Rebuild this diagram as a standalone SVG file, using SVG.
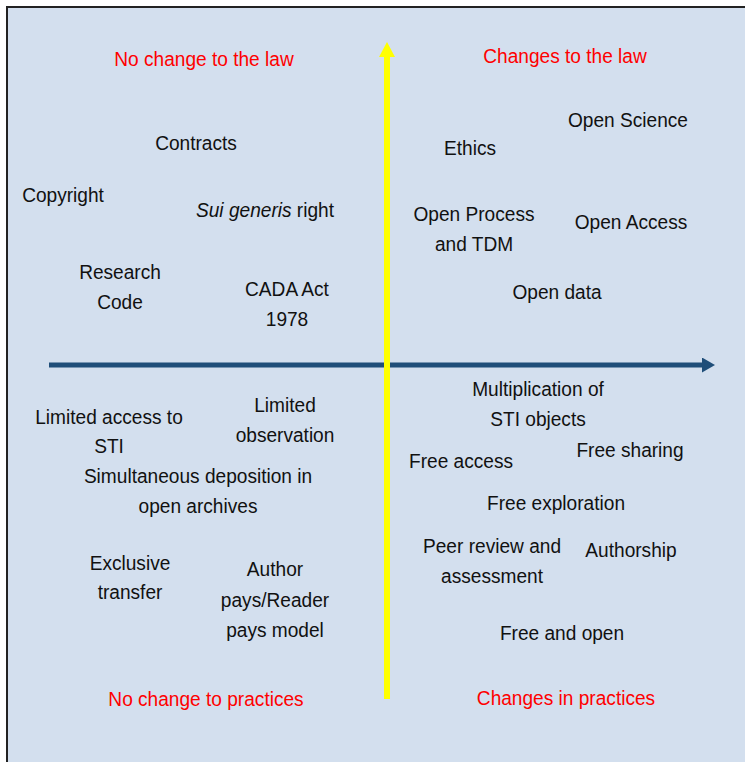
<svg xmlns="http://www.w3.org/2000/svg" width="745" height="762" viewBox="0 0 745 762">
  <style>
    .t { font-family: "Liberation Sans", Arial, sans-serif; font-size: 21px; fill: #111; text-anchor: middle; }
    .r { fill: #ff0000; }
  </style>
  <defs>
    <marker id="blueHead" markerUnits="userSpaceOnUse" markerWidth="14" markerHeight="15" refX="0" refY="7.5" orient="auto">
      <path d="M0,0 L13,7.5 L0,15 Z" fill="#1f4e79"/>
    </marker>
    <marker id="yellowHead" markerUnits="userSpaceOnUse" markerWidth="16" markerHeight="16" refX="0" refY="8" orient="auto">
      <path d="M0,0 L15,8 L0,16 Z" fill="#ffff00"/>
    </marker>
  </defs>
  <rect x="0" y="0" width="745" height="762" fill="#ffffff"/>
  <rect id="frame" x="7" y="7" width="760" height="780" fill="#d3dfee" stroke="#222222" stroke-width="2"/>

  <g id="connectors">
    <line x1="49" y1="365" x2="702" y2="365" stroke="#1f4e79" stroke-width="5" marker-end="url(#blueHead)"/>
    <line x1="387" y1="699" x2="387" y2="57" stroke="#ffff00" stroke-width="6" marker-end="url(#yellowHead)"/>
  </g>

  <g id="label-no-change-law"><text class="t r" transform="translate(204,66) scale(0.91,1)">No change to the law</text></g>
  <g id="label-changes-law"><text class="t r" transform="translate(565,63) scale(0.91,1)">Changes to the law</text></g>
  <g id="label-no-change-practices"><text class="t r" transform="translate(206,706) scale(0.91,1)">No change to practices</text></g>
  <g id="label-changes-practices"><text class="t r" transform="translate(566,705) scale(0.91,1)">Changes in practices</text></g>

  <g id="contracts"><text class="t" transform="translate(196,150) scale(0.91,1)">Contracts</text></g>
  <g id="copyright"><text class="t" transform="translate(63,202) scale(0.91,1)">Copyright</text></g>
  <g id="sui-generis"><text class="t" transform="translate(265,217) scale(0.91,1)"><tspan font-style="italic">Sui generis</tspan> right</text></g>
  <g id="research-code"><text class="t" transform="translate(120,279) scale(0.91,1)"><tspan x="0">Research</tspan><tspan x="0" dy="30">Code</tspan></text></g>
  <g id="cada-act"><text class="t" transform="translate(287,296) scale(0.91,1)"><tspan x="0">CADA Act</tspan><tspan x="0" dy="30">1978</tspan></text></g>

  <g id="open-science"><text class="t" transform="translate(628,127) scale(0.91,1)">Open Science</text></g>
  <g id="ethics"><text class="t" transform="translate(470,155) scale(0.91,1)">Ethics</text></g>
  <g id="open-process"><text class="t" transform="translate(474,221) scale(0.91,1)"><tspan x="0">Open Process</tspan><tspan x="0" dy="30">and TDM</tspan></text></g>
  <g id="open-access"><text class="t" transform="translate(631,229) scale(0.91,1)">Open Access</text></g>
  <g id="open-data"><text class="t" transform="translate(557,299) scale(0.91,1)">Open data</text></g>

  <g id="limited-access"><text class="t" transform="translate(109,424) scale(0.91,1)"><tspan x="0">Limited access to</tspan><tspan x="0" dy="29">STI</tspan></text></g>
  <g id="limited-observation"><text class="t" transform="translate(285,412) scale(0.91,1)"><tspan x="0">Limited</tspan><tspan x="0" dy="30">observation</tspan></text></g>
  <g id="simultaneous"><text class="t" transform="translate(198,483) scale(0.91,1)"><tspan x="0">Simultaneous deposition in</tspan><tspan x="0" dy="30">open archives</tspan></text></g>
  <g id="exclusive"><text class="t" transform="translate(130,570) scale(0.91,1)"><tspan x="0">Exclusive</tspan><tspan x="0" dy="29">transfer</tspan></text></g>
  <g id="author-pays"><text class="t" transform="translate(275,576) scale(0.91,1)"><tspan x="0">Author</tspan><tspan x="0" dy="31">pays/Reader</tspan><tspan x="0" dy="30">pays model</tspan></text></g>

  <g id="multiplication"><text class="t" transform="translate(538,396) scale(0.91,1)"><tspan x="0">Multiplication of</tspan><tspan x="0" dy="30">STI objects</tspan></text></g>
  <g id="free-sharing"><text class="t" transform="translate(630,457) scale(0.91,1)">Free sharing</text></g>
  <g id="free-access"><text class="t" transform="translate(461,468) scale(0.91,1)">Free access</text></g>
  <g id="free-exploration"><text class="t" transform="translate(556,510) scale(0.91,1)">Free exploration</text></g>
  <g id="peer-review"><text class="t" transform="translate(492,553) scale(0.91,1)"><tspan x="0">Peer review and</tspan><tspan x="0" dy="30">assessment</tspan></text></g>
  <g id="authorship"><text class="t" transform="translate(631,557) scale(0.91,1)">Authorship</text></g>
  <g id="free-and-open"><text class="t" transform="translate(562,640) scale(0.91,1)">Free and open</text></g>
</svg>
